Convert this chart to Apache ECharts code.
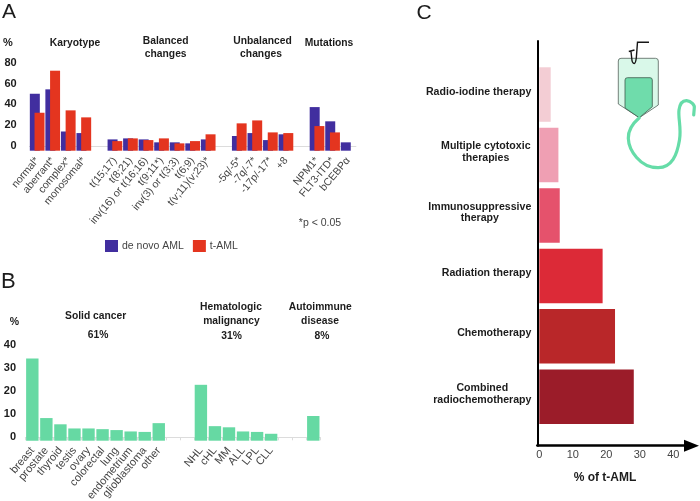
<!DOCTYPE html>
<html><head><meta charset="utf-8">
<style>html,body{margin:0;padding:0;background:#fff}#c{width:700px;height:501px}</style>
<script src="https://cdn.jsdelivr.net/npm/echarts@6/dist/echarts.min.js"></script>
</head><body><div id="c"></div>
<script>
const geneCategories = ['normal*','aberrant*','complex*','monosomal*','','t(15;17)','t(8;21)','inv(16) or t(16;16)','t(9;11*)','inv(3) or t(3;3)','t(6;9)','t(v;11)(v;23)*','','-5q/-5*','-7q/-7*','-17p/-17*','+8','','NPM1*','FLT3-ITD*','bCEBPα'];
const deNovoAML = [50.4,54.3,17,15.6,null,10,10.9,10,7.4,7.4,6.5,10,null,13,15.6,9.4,14.5,null,38.6,26,7.4];
const tAML = [33.6,70.8,35.7,29.5,null,8.5,10.9,9.4,10.9,6.5,8.5,14.5,null,24.2,26.8,16.2,15.6,null,21.8,16.2,null];
const ticksA = [0,20,40,60,80];

const diseaseCategories = ['breast','prostate','thyroid','testis','ovary','colorectal','lung','endometrium','glioblastoma','other','','','NHL','cHL','MM','ALL','LPL','CLL','','',''];
const diseaseValues = [35.6,9.8,7.1,5.3,5.3,5,4.6,4,3.8,7.6,null,null,24.2,6.3,5.8,4,3.8,3,null,null,10.7];
const ticksB = [0,10,20,30,40];

const therapyCategories = ['Radio-iodine therapy','Multiple cytotoxic\ntherapies','Immunosuppressive\ntherapy','Radiation therapy','Chemotherapy','Combined\nradiochemotherapy'];
const therapyValues = [3.4,5.7,6.1,18.9,22.6,28.2];
const therapyColors = ['#f3cdd4','#ef9fb3','#e5526c','#dc2a37','#b92729','#9b1c29'];
const ticksC = [0,10,20,30,40];

const FONT = '"Liberation Sans", Arial, sans-serif';
const DARK = '#1c1c1c', GREY = '#444';
const BLUE = '#412e9f', RED = '#e4351f', GREEN = '#66d9a3';

function txt(s, x, y, o) {
  o = o || {};
  return {type:'text', x, y, silent:true, style:{text:s, fill:o.fill||DARK, font:(o.bold===false?'':'bold ')+(o.size||10.3)+'px '+FONT, textAlign:o.align||'center', textVerticalAlign:'middle'}};
}
const texts = [
  txt('A',2,12,{size:21,bold:false,align:'left'}), txt('B',1,282,{size:22,bold:false,align:'left'}), txt('C',424,13,{size:21,bold:false}),
  txt('%',8,42.7,{size:11}), txt('Karyotype',75,43.3), txt('Balanced',165.7,41), txt('changes',165.7,54),
  txt('Unbalanced',262.5,41), txt('changes',261,54), txt('Mutations',329,43.3),
  txt('*p < 0.05',320,222.7,{size:10.5,bold:false,fill:GREY}),
  txt('%',14.5,322.3,{size:10.5}), txt('Solid cancer',95.7,316), txt('61%',98,335.3),
  txt('Hematologic',231,307), txt('malignancy',231.5,321), txt('31%',231.5,336.3),
  txt('Autoimmune',320.3,307.5), txt('disease',320,321), txt('8%',322,336),
  txt('% of t-AML',605,477.7,{size:12})
];
function pathShape(name, d, style) {
  echarts.graphic.registerShape(name, echarts.graphic.extendPath(d, {}));
  return {type:name, silent:true, style:style};
}
const bag = [
  pathShape('bagOuter','M621 58.3 L655.5 58.3 Q658.3 58.3 658.3 61 L658.3 105 L639.3 117.7 L618.3 104 L618.3 61 Q618.3 58.3 621 58.3 Z',{fill:'#d9f8e9',stroke:'#56625c',lineWidth:0.8}),
  pathShape('bagInner','M627.5 77.7 L650 77.7 Q652.3 77.7 652.3 80 L652.3 106.7 L639.3 117.7 L625 108 L625 80 Q625 77.7 627.5 77.7 Z',{fill:'#6fdcab',stroke:'#3d5a4c',lineWidth:0.8}),
  pathShape('bagTube','M639.3 117.7 C632 124 628 130 628.3 138.3 C628.7 150 640 168 658.3 167.7 C672 167.5 677 155 679.5 140 C681.5 128 678 118 679 110 C680 103 683 100.5 686.7 100.7 C691 101 695 105 694.3 108 L693.7 115',{fill:'none',stroke:'#66dca8',lineWidth:3.2,lineCap:'round'}),
  pathShape('bagNeedle','M649 42.3 L637.5 42.3 L636.3 58 Q635.5 63.5 634.3 63.5 Q632 63.5 631.7 58 L631 51.5 M628.8 51.5 L634.5 50',{fill:'none',stroke:'#161616',lineWidth:1.4})
];

const axisLineLight = {show:true, lineStyle:{color:'#dcdcdc',width:1}};
function valueLabelAxis(gridIndex, min, max, ticks, margin) {
  return {type:'value', gridIndex, min, max, splitLine:{show:false}, axisLine:{show:false}, axisTick:{show:false},
    axisLabel:{customValues:ticks, margin, color:DARK, fontWeight:'bold', fontSize:11, fontFamily:FONT}};
}
function hiddenAxis(gridIndex, min, max) {
  return {type:'value', gridIndex, min, max, show:false, splitLine:{show:false}};
}
function catAxis(gridIndex, data, tick, size, margin) {
  return {type:'category', gridIndex, data, axisLine:axisLineLight, axisTick:{show:tick, length:3, lineStyle:{color:'#dcdcdc'}},
    axisLabel:{interval:0, rotate:50, margin, color:GREY, fontSize:size, fontFamily:FONT}};
}

const option = {
  animation:false, backgroundColor:'#fff',
  legend:{left:105, top:240, padding:0, itemWidth:13, itemHeight:12, itemGap:9, icon:'rect', data:['de novo AML','t-AML'],
    textStyle:{color:GREY, fontSize:10.5, fontFamily:FONT, padding:[0,0,0,-1]}},
  grid:[
    {left:29.4, top:60, width:326.5, height:90.7, outerBoundsMode:'none'},
    {left:25.3, top:340, width:295, height:100.7, outerBoundsMode:'none'},
    {left:537.3, top:64.3, width:154.2, height:362.7, outerBoundsMode:'none'},
    {left:537.3, top:41, width:154.2, height:404.7, outerBoundsMode:'none'}
  ],
  xAxis:[
    catAxis(0, geneCategories, false, 10.5, 8),
    catAxis(1, diseaseCategories, true, 11, 8),
    hiddenAxis(2, -0.6, 45.43),
    {type:'value', gridIndex:3, min:-0.6, max:45.43, splitLine:{show:false},
     axisLine:{show:true, onZero:false, symbol:['none','triangle'], symbolSize:[12,15], lineStyle:{color:'#000',width:2.5}},
     axisTick:{show:false},
     axisLabel:{customValues:ticksC, margin:4, color:GREY, fontSize:11, fontFamily:FONT}}
  ],
  yAxis:[
    valueLabelAxis(0, -4.51, 82.6, ticksA, 12.7),
    hiddenAxis(0, 0, 80.27),
    valueLabelAxis(1, -1.47, 42.17, ticksB, 9.3),
    hiddenAxis(1, 0, 43.6),
    {type:'category', gridIndex:2, inverse:true, data:therapyCategories, axisLine:{show:false}, axisTick:{show:false},
     axisLabel:{interval:0, margin:6, padding:[0,0,5.5,0], color:DARK, fontWeight:'bold', fontSize:10.6, fontFamily:FONT, lineHeight:11.7,
       formatter:function(v){
         const p = v.split('\n');
         if (p.length<2) return v;
         const key = v[0]==='M'?'m':v[0]==='I'?'i':'c';
         return p.map(function(s){return '{'+key+'|'+s+'}';}).join('\n');
       },
       rich:{
         m:{width:91,align:'center',fontWeight:'bold',fontSize:10.6,color:DARK,lineHeight:11.7,fontFamily:FONT},
         i:{width:103,align:'center',fontWeight:'bold',fontSize:10.6,color:DARK,lineHeight:11.7,fontFamily:FONT},
         c:{width:98,align:'center',fontWeight:'bold',fontSize:10.6,color:DARK,lineHeight:11.7,fontFamily:FONT}
       }}},
    {type:'value', gridIndex:3, min:0, max:1, splitLine:{show:false},
     axisLine:{show:true, onZero:false, lineStyle:{color:'#000',width:2}}, axisTick:{show:false}, axisLabel:{show:false}}
  ],
  series:[
    {name:'de novo AML', type:'bar', xAxisIndex:0, yAxisIndex:1, data:deNovoAML, barWidth:10, barGap:'-53%', itemStyle:{color:BLUE}},
    {name:'t-AML', type:'bar', xAxisIndex:0, yAxisIndex:1, data:tAML, barWidth:10, barGap:'-53%', itemStyle:{color:RED}},
    {name:'Previous disease', type:'bar', xAxisIndex:1, yAxisIndex:3, data:diseaseValues, barWidth:12.4, itemStyle:{color:GREEN}},
    {name:'Therapy', type:'bar', xAxisIndex:2, yAxisIndex:4, barWidth:54.5,
     data:therapyValues.map(function(v,i){return {value:v,itemStyle:{color:therapyColors[i]}};})}
  ],
  graphic:{elements:bag.concat(texts)}
};
echarts.init(document.getElementById('c'),null,{renderer:'canvas'}).setOption(option);
</script></body></html>
